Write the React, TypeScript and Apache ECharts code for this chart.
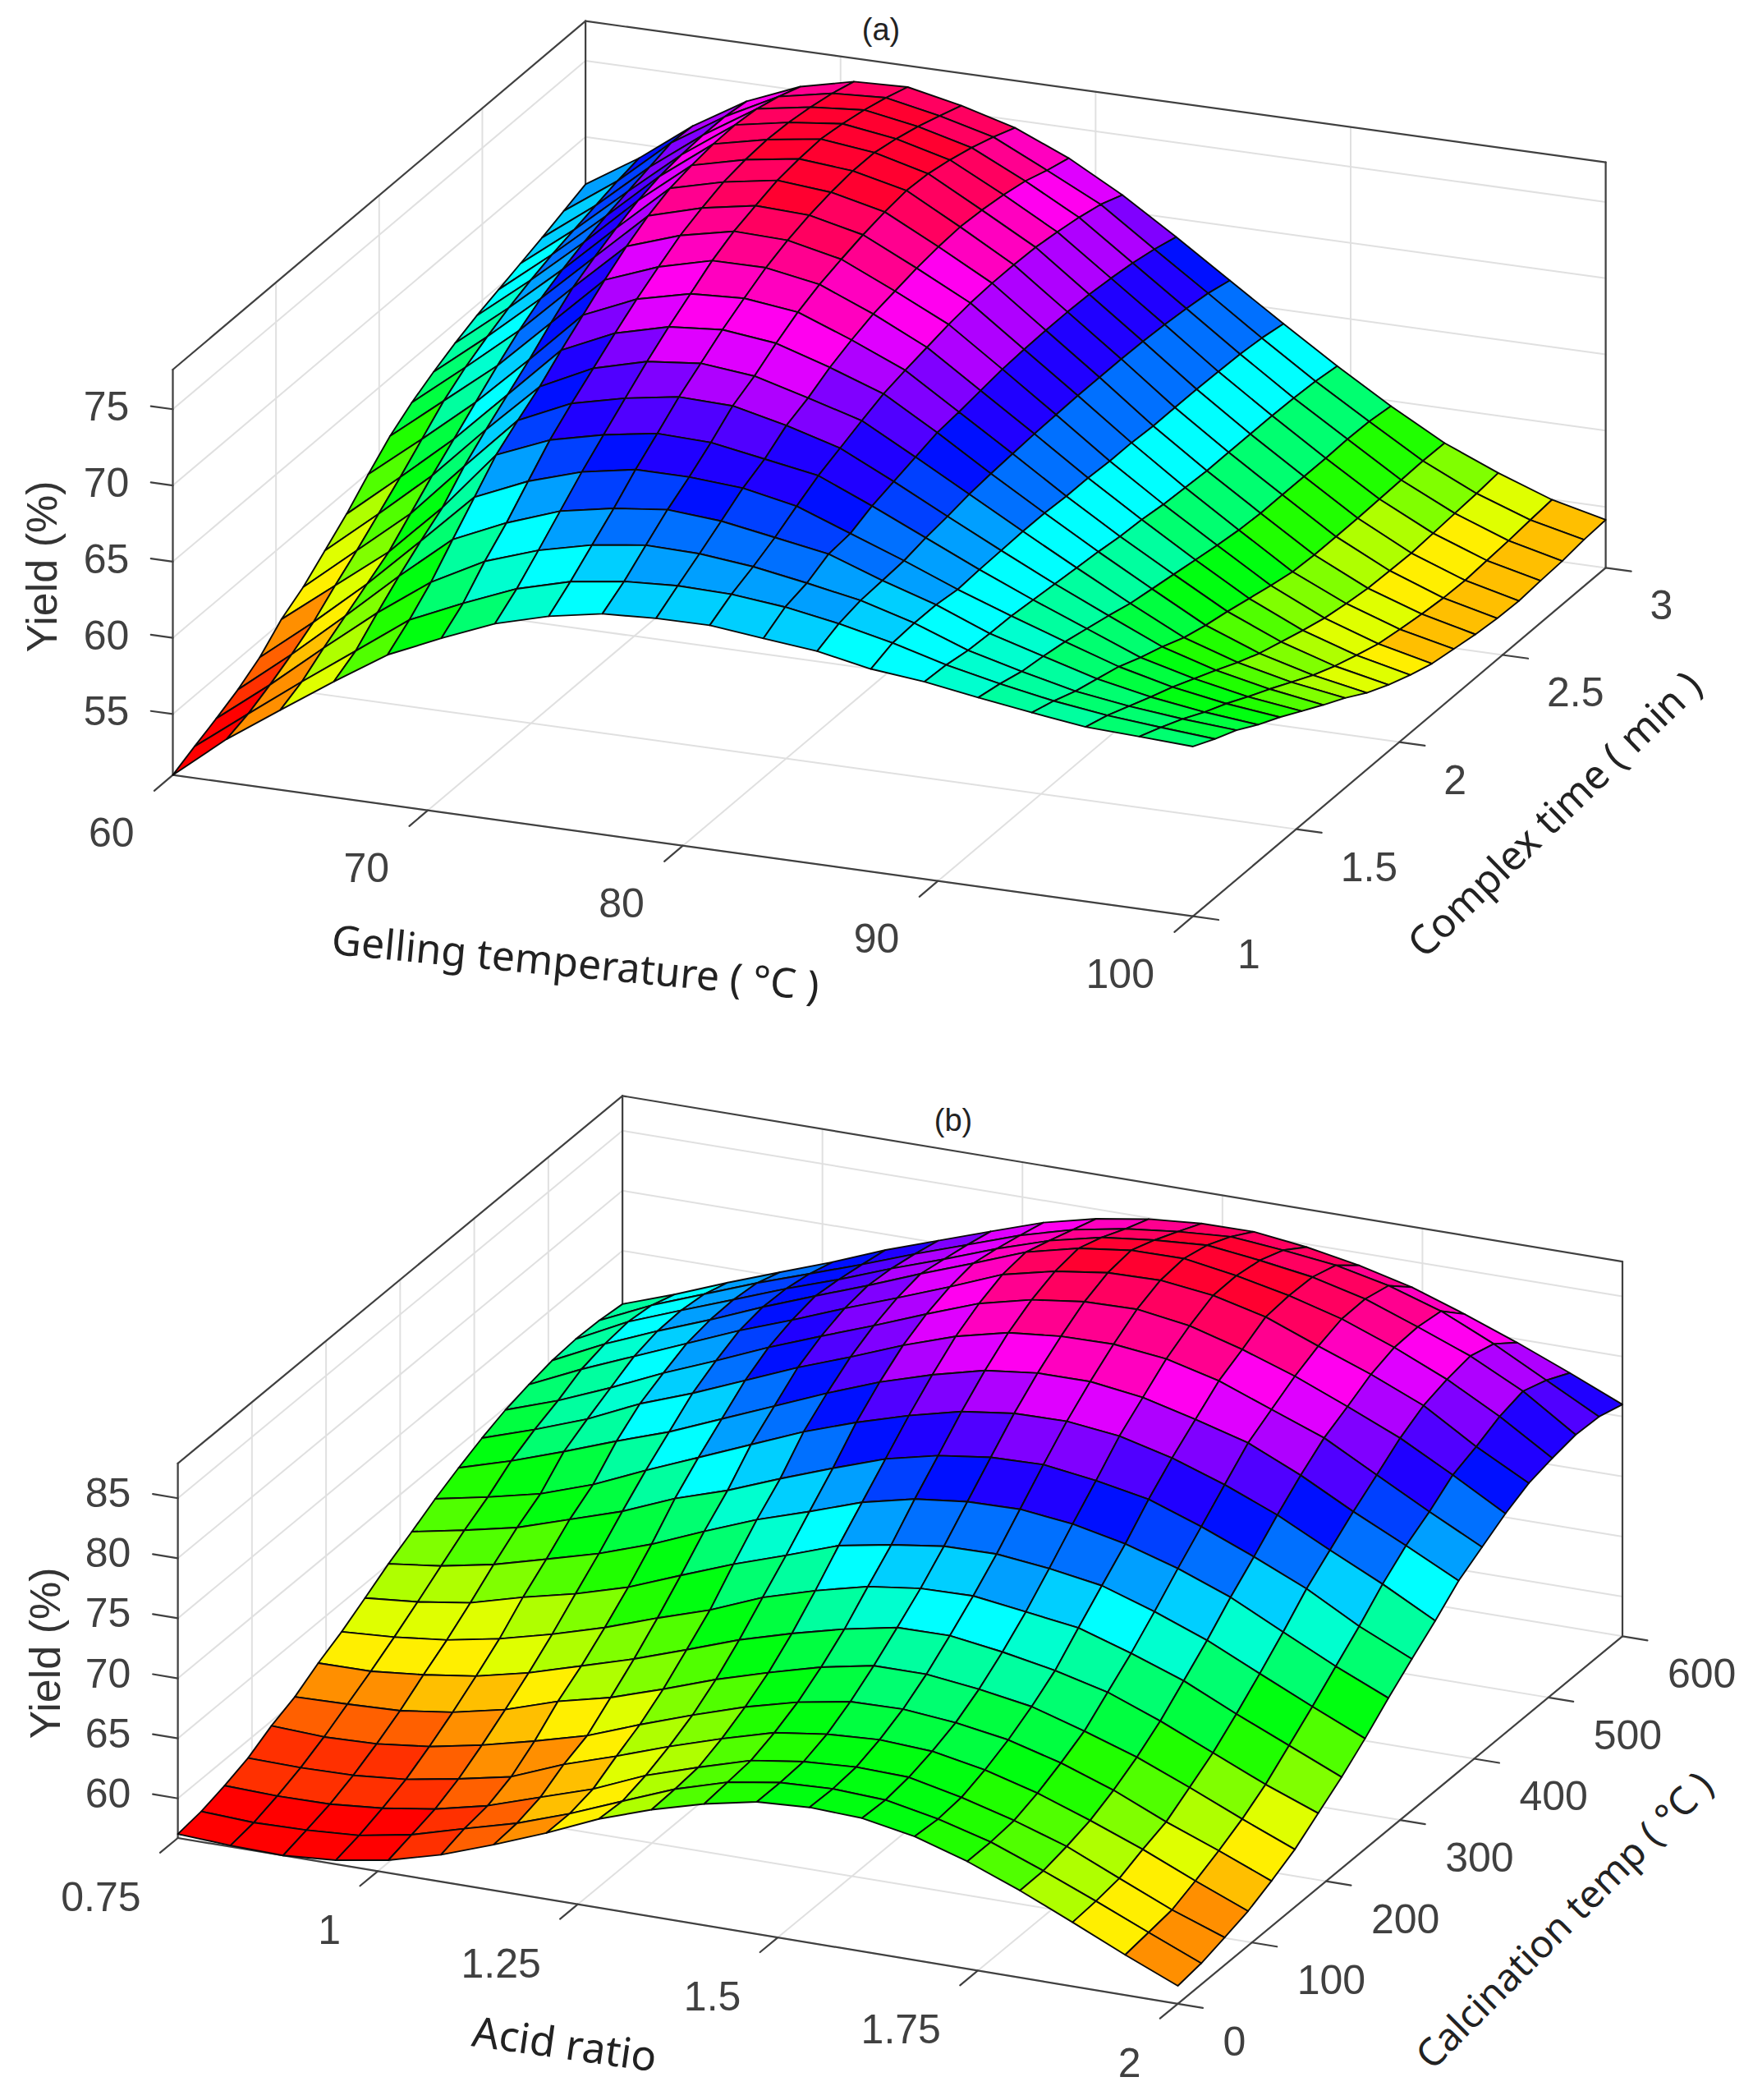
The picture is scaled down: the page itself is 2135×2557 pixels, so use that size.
import React, { useEffect, useRef } from "react";
import * as echarts from "echarts";

const gellingTicks = [60, 70, 80, 90, 100];
const complexTicks = [1, 1.5, 2, 2.5, 3];
const yieldTicksA = [55, 60, 65, 70, 75];
const acidTicks = [0.75, 1, 1.25, 1.5, 1.75, 2];
const calcinationTicks = [0, 100, 200, 300, 400, 500, 600];
const yieldTicksB = [60, 65, 70, 75, 80, 85];

// Yield (%): one row per complex-time step, one column per gelling-temperature step
const yieldA = [
  [51,53.84,56.24,58.6,60.84,62.41,63.86,64.83,65.48,65.67,65.7,65.33,64.98,64.3,63.95,63.4,62.9,62.45,62.3,62.14],
  [51.67,54.3,56.9,59.4,61.92,63.5,64.94,65.9,66.4,66.6,66.53,66.18,65.58,64.8,63.85,63.1,62.46,62,61.7,61.43],
  [52.3,55,57.9,60.7,63.2,65.05,66.26,67.1,67.57,67.5,67.14,66.55,65.9,64.9,63.6,62.7,61.9,61.4,61.05,60.8],
  [53,55.8,58.8,61.9,64.8,66.37,67.63,68.3,68.7,68.44,67.85,67.25,66,64.9,63.5,62.5,61.5,60.8,60.3,59.96],
  [53.9,56.7,59.7,63,66.37,67.9,69,69.64,69.64,69.4,68.7,67.4,66.1,64.7,63.45,62.25,61.1,60.25,59.65,59.25],
  [55.2,57.9,60.6,64,67.94,69.4,70.23,70.8,70.7,70.1,69.5,68,66.4,64.8,63.3,61.9,60.5,59.6,58.9,58.44],
  [56.1,59,61.9,65.5,69,70.6,71.43,72,71.9,71.1,70.1,68.4,66.6,64.85,63.15,61.55,60,58.95,58.2,57.65],
  [57.3,60.2,63.2,66.7,70,71.7,72.63,73,72.65,71.7,70.7,68.8,66.85,64.9,63,61.15,59.4,58.25,57.45,56.9],
  [58.5,61.4,64.4,67.8,71.2,72.8,73.7,74,73.6,72.5,71.26,69.2,67,64.9,62.85,60.9,59,57.65,56.7,56.03],
  [59.9,62.7,65.6,68.9,72.3,73.83,74.67,74.86,74.44,73.1,71.6,69.35,67.1,64.8,62.65,60.65,58.7,57.2,56.1,55.36],
  [61.2,64,66.8,70.1,73.4,74.74,75.64,75.66,75.05,73.6,71.9,69.55,67.2,64.8,62.55,60.4,58.35,56.75,55.6,54.8],
  [62.2,65,67.9,71.2,74.4,75.6,76.36,76.26,75.5,73.9,72.2,69.75,67.25,64.7,62.35,60.15,58,56.35,55.15,54.34],
  [63,65.8,68.8,72,75.2,76.2,76.84,76.7,75.9,74.2,72.4,69.85,67.3,64.7,62.25,59.95,57.7,56.1,54.9,54.1],
  [63.7,66.5,69.5,72.7,75.8,76.7,77.3,77,76.2,74.4,72.5,69.9,67.3,64.6,62.15,59.85,57.6,55.9,54.7,53.85],
  [64.3,67.1,70.1,73.3,76.1,76.96,77.5,77.2,76.4,74.5,72.5,69.9,67.3,64.6,62.15,59.85,57.6,55.85,54.55,53.7],
  [64.8,67.6,70.6,73.7,76.3,77.08,77.6,77.2,76.3,74.4,72.45,69.85,67.25,64.6,62.15,59.85,57.6,55.8,54.5,53.64],
  [65.3,68,71,73.9,76.35,77,77.4,76.9,76,74.2,72.25,69.7,67.15,64.55,62.15,59.85,57.65,55.9,54.6,53.76],
  [65.8,68.4,71.4,74,76.2,76.8,77.1,76.5,75.6,73.9,72,69.5,67,64.5,62.1,59.9,57.7,56,54.7,53.85],
  [66.35,68.8,71.8,74,75.8,76.5,76.7,76,75.1,73.4,71.65,69.2,66.8,64.35,62,59.85,57.75,56.1,54.85,54.05],
  [66.9,69.1,71.7,73.8,75.25,76.07,76.2,75.47,74.5,73,71.07,68.8,66.44,64.08,61.8,59.66,57.72,56.25,54.98,54.15],
];

// Yield (%): one row per calcination-temp step, one column per acid-ratio step
const yieldB = [
  [57.03,56.8,56.7,57.03,57.76,58.94,60.5,62.2,64.1,65.6,66.8,67.7,67.97,67.8,67,65.65,63.95,62.03,60.05,58.19],
  [57.3,57.1,57.2,57.48,58.27,59.5,60.68,62.2,63.96,65.7,67,67.7,67.9,67.7,66.84,65.65,63.98,62.18,60.3,58.46],
  [57.84,57.7,57.75,58.14,58.8,59.8,61.23,62.64,64.5,65.9,67.2,67.83,68.1,67.98,67.03,65.83,64.4,62.47,60.57,59],
  [58.53,58.45,58.54,58.93,59.7,60.6,62.36,63.77,65.3,66.67,67.9,68.5,68.77,68.53,67.7,66.5,64.95,63.27,61.37,59.58],
  [59.6,59.4,59.55,60.05,60.9,61.96,63.14,64.78,66.3,67.7,68.83,69.6,69.7,69.3,68.6,67.4,65.86,63.95,62.27,60.48],
  [60.4,60.52,60.7,61.3,62.25,63.66,64.7,66.13,67.66,68.96,70.14,70.98,71,70.48,69.76,68.44,67,65.2,63.3,61.5],
  [61.6,61.65,62.08,62.7,63.7,65,66.3,67.8,69.35,70.6,71.7,72.55,72.6,71.97,71.15,70.07,68.4,66.48,64.57,62.9],
  [62.6,62.88,63.37,64.2,65.3,66.58,68.1,69.5,71.27,72.56,73.63,74.2,74.3,73.7,73.1,71.7,70.14,68.1,66.2,64.3],
  [63.8,64.2,64.85,66.04,67.06,68.33,70.04,71.7,73.16,74.7,75.5,76.1,76.18,75.7,75,73.56,71.9,69.85,67.83,65.9],
  [65.04,65.58,66.43,67.6,68.8,70.3,72.1,73.8,75.2,76.7,77.7,78.2,78.3,77.8,76.86,75.54,73.87,71.7,69.57,67.66],
  [66.1,66.95,67.9,69.3,70.7,72.5,73.9,75.6,77.2,78.7,79.7,80.28,80.4,79.8,78.97,77.42,75.63,73.7,71.3,69.3],
  [67.23,68.1,69.1,70.6,72.5,74.3,76.1,77.9,79.4,80.7,81.76,82.33,82.4,81.9,80.8,79.3,77.5,75.3,73.2,70.88],
  [68.2,69.5,71,72.6,74.1,75.9,77.7,79.5,81.15,82.48,83.57,84.08,84.1,83.5,82.4,81.17,79.2,76.9,74.8,72.6],
  [69.07,70.5,72.1,74.1,75.7,77.5,79.3,80.9,82.6,84.07,85.1,85.53,85.6,85.1,84,82.34,80.7,78.34,76,73.79],
  [69.8,71.3,73.1,75.05,76.8,78.64,80.3,81.9,83.6,85.2,86.24,86.8,86.9,86.25,85,83.5,81.7,79.8,77.45,74.97],
  [70.3,72.3,74.1,75.9,77.7,79.3,81,82.6,84.25,86,87,87.6,87.7,87.16,86.1,84.4,82.77,80.9,78.2,75.89],
  [70.7,72.8,74.6,76.26,78.05,79.7,81.3,83,84.6,86.26,87.3,87.86,87.9,87.2,86.27,85.05,83.4,81.47,79.1,76.36],
  [70.86,73.04,74.7,76.33,77.97,79.46,81.1,82.6,84.2,85.6,86.6,87.1,87.4,86.86,86.2,85.1,83.5,81.8,79.6,76.7],
  [70.8,72.8,74.45,76.1,77.6,79.1,80.7,82.2,83.7,84.9,85.7,86.2,86.5,86.1,85.57,84.6,83.2,81.2,78.9,76.6],
  [70.56,72.1,73.8,75.4,76.97,78.7,80.2,81.7,83.16,84.2,84.9,85.26,85.3,84.75,83.95,82.86,81.35,79.7,77.9,76],
];

type Panel = {
  values: number[][];
  xTicks: number[]; yTicks: number[]; zTicks: number[];
  xRange: number[]; yRange: number[]; zRange: number[];
  origin: number[]; xVec: number[]; yVec: number[]; zPx: number;
  xTickLen: number; yTickLen: number; zTickLen: number;
  zLabel: number[]; xLabel: number[]; yLabel: number[];
  tag: string; tagPos: number[];
  zName: string; zNamePos: number[];
  xName: string; xNamePos: number[]; xNameRot: number; xNameSize: number;
  yName: string; yNamePos: number[]; yNameRot: number; yNameSize: number;
};

const panelA: Panel = {
  values: yieldA,
  xTicks: gellingTicks, yTicks: complexTicks, zTicks: yieldTicksA,
  xRange: [60, 100], yRange: [1, 3], zRange: [51, 77.6],
  origin: [210.5, 943.7], xVec: [1242.5, 172], yVec: [502.6, -424.3], zPx: 18.56,
  xTickLen: 0.045, yTickLen: 0.025, zTickLen: 0.0215,
  zLabel: [-81, -3], xLabel: [-47, 70], yLabel: [54, 46],
  tag: "(a)", tagPos: [1073, 36],
  zName: "Yield (%)", zNamePos: [51, 690],
  xName: "Gelling temperature ( °C )", xNamePos: [701, 1171], xNameRot: -0.095, xNameSize: 50,
  yName: "Complex time ( min )", yNamePos: [1892, 990], yNameRot: 0.77, yNameSize: 49,
};

const panelB: Panel = {
  values: yieldB,
  xTicks: acidTicks, yTicks: calcinationTicks, zTicks: yieldTicksB,
  xRange: [0.75, 2], yRange: [0, 600], zRange: [56.7, 87.9],
  origin: [216.6, 2238], xVec: [1217.9, 201.8], yVec: [541.5, -447.5], zPx: 14.62,
  xTickLen: 0.04, yTickLen: 0.025, zTickLen: 0.025,
  zLabel: [-85, -6], xLabel: [-45, 72], yLabel: [55, 46],
  tag: "(b)", tagPos: [1161, 1364],
  zName: "Yield (%)", zNamePos: [55, 2013],
  xName: "Acid ratio", xNamePos: [688, 2487], xNameRot: -0.14, xNameSize: 51,
  yName: "Calcination temp ( °C )", yNamePos: [1904, 2337], yNameRot: 0.785, yNameSize: 47,
};

const TICK_FONT = '50px "Liberation Sans", Arial, sans-serif';
const GRID_COLOR = "#e0e0e0";
const AXIS_COLOR = "#404040";
const HUE_STEPS = 32;

function hueColor(t: number) {
  const idx = Math.min(HUE_STEPS - 1, Math.max(0, Math.floor(t * HUE_STEPS)));
  const h = (idx / HUE_STEPS) * 6;
  const c = (n: number) => {
    const k = (n + h) % 6;
    const v = 1 - Math.max(0, Math.min(k, 4 - k, 1));
    return Math.round(v * 255).toString(16).padStart(2, "0");
  };
  return "#" + c(5) + c(3) + c(1);
}

function makeProject(p: Panel) {
  return (x: number, y: number, z: number) => {
    const u = (x - p.xRange[0]) / (p.xRange[1] - p.xRange[0]);
    const v = (y - p.yRange[0]) / (p.yRange[1] - p.yRange[0]);
    return [
      p.origin[0] + u * p.xVec[0] + v * p.yVec[0],
      p.origin[1] + u * p.xVec[1] + v * p.yVec[1] - (z - p.zRange[0]) * p.zPx,
    ];
  };
}

function segmentSeries(segs: number[][], color: string, width: number, z: number) {
  return {
    type: "custom",
    coordinateSystem: "cartesian2d",
    silent: true,
    z,
    data: segs,
    renderItem: (params: any, api: any) => {
      const s = segs[params.dataIndex];
      const a = api.coord([s[0], s[1]]);
      const b = api.coord([s[2], s[3]]);
      return {
        type: "line",
        shape: { x1: a[0], y1: a[1], x2: b[0], y2: b[1] },
        style: { stroke: color, lineWidth: width, lineCap: "round" },
      };
    },
  };
}

function surfaceSeries(p: Panel) {
  const project = makeProject(p);
  const rows = p.values.length;
  const cols = p.values[0].length;
  const xAt = (i: number) => p.xRange[0] + ((p.xRange[1] - p.xRange[0]) * i) / (cols - 1);
  const yAt = (j: number) => p.yRange[0] + ((p.yRange[1] - p.yRange[0]) * j) / (rows - 1);
  const cells: number[][] = [];
  for (let j = rows - 2; j >= 0; j--) for (let i = 0; i < cols - 1; i++) cells.push([i, j]);
  return {
    type: "custom",
    coordinateSystem: "cartesian2d",
    silent: true,
    z: 5,
    data: cells,
    renderItem: (params: any, api: any) => {
      const [i, j] = cells[params.dataIndex];
      const corners = [[i, j], [i + 1, j], [i + 1, j + 1], [i, j + 1]];
      const points = corners.map(([a, b]) => api.coord(project(xAt(a), yAt(b), p.values[b][a])));
      const t = (p.values[j][i] - p.zRange[0]) / (p.zRange[1] - p.zRange[0]);
      return {
        type: "polygon",
        shape: { points },
        style: { fill: hueColor(t), stroke: "#0a0a0a", lineWidth: 1.9, lineJoin: "round" },
      };
    },
  };
}

function panelSeries(p: Panel) {
  const project = makeProject(p);
  const [x0, x1] = p.xRange;
  const [y0, y1] = p.yRange;
  const [z0, z1] = p.zRange;
  const seg = (a: number[], b: number[]) => [...a, ...b];
  const grid: number[][] = [];
  p.xTicks.forEach((t) => {
    grid.push(seg(project(t, y0, z0), project(t, y1, z0)));
    grid.push(seg(project(t, y1, z0), project(t, y1, z1)));
  });
  p.yTicks.forEach((t) => {
    grid.push(seg(project(x0, t, z0), project(x1, t, z0)));
    grid.push(seg(project(x0, t, z0), project(x0, t, z1)));
  });
  p.zTicks.forEach((t) => {
    grid.push(seg(project(x0, y0, t), project(x0, y1, t)));
    grid.push(seg(project(x0, y1, t), project(x1, y1, t)));
  });
  const axes: number[][] = [
    seg(project(x0, y0, z0), project(x1, y0, z0)),
    seg(project(x1, y0, z0), project(x1, y1, z0)),
    seg(project(x0, y0, z0), project(x0, y0, z1)),
    seg(project(x0, y0, z1), project(x0, y1, z1)),
    seg(project(x0, y1, z1), project(x1, y1, z1)),
    seg(project(x1, y1, z1), project(x1, y1, z0)),
    seg(project(x0, y1, z0), project(x0, y1, z1)),
  ];
  const dx = x1 - x0;
  const dy = y1 - y0;
  p.xTicks.forEach((t) => axes.push(seg(project(t, y0, z0), project(t, y0 - dy * p.xTickLen, z0))));
  p.yTicks.forEach((t) => axes.push(seg(project(x1, t, z0), project(x1 + dx * p.yTickLen, t, z0))));
  p.zTicks.forEach((t) => axes.push(seg(project(x0, y0, t), project(x0 - dx * p.zTickLen, y0, t))));
  return [segmentSeries(grid, GRID_COLOR, 2, 1), segmentSeries(axes, AXIS_COLOR, 2.2, 2), surfaceSeries(p)];
}

function panelTexts(p: Panel) {
  const project = makeProject(p);
  const [x0, x1] = p.xRange;
  const [y0] = p.yRange;
  const [z0] = p.zRange;
  const out: any[] = [];
  const label = (text: string, pos: number[], align: string) =>
    out.push({
      type: "text", x: pos[0], y: pos[1],
      style: { text, font: TICK_FONT, fill: "#404040", align, verticalAlign: "middle" },
    });
  p.zTicks.forEach((t) => {
    const q = project(x0, y0, t);
    label(String(t), [q[0] + p.zLabel[0], q[1] + p.zLabel[1]], "center");
  });
  p.xTicks.forEach((t) => {
    const q = project(t, y0, z0);
    label(String(t), [q[0] + p.xLabel[0], q[1] + p.xLabel[1]], "right");
  });
  p.yTicks.forEach((t) => {
    const q = project(x1, t, z0);
    label(String(t), [q[0] + p.yLabel[0], q[1] + p.yLabel[1]], "left");
  });
  const name = (text: string, pos: number[], rotation: number, font: string, fill: string) =>
    out.push({
      type: "text", x: pos[0], y: pos[1], rotation,
      style: { text, font, fill, align: "center", verticalAlign: "middle" },
    });
  name(p.tag, p.tagPos, 0, '38px "Liberation Sans", Arial, sans-serif', "#222");
  name(p.zName, p.zNamePos, Math.PI / 2, '52px "Liberation Sans", Arial, sans-serif', "#333");
  name(p.xName, p.xNamePos, p.xNameRot, `${p.xNameSize}px "Noto Sans", sans-serif`, "#222");
  name(p.yName, p.yNamePos, p.yNameRot, `${p.yNameSize}px "Noto Sans", sans-serif`, "#222");
  return out;
}

export default function App() {
  const ref = useRef<HTMLDivElement>(null);
  useEffect(() => {
    if (!ref.current) return;
    const chart = echarts.init(ref.current, undefined, { renderer: "svg" });
    chart.setOption({
      animation: false,
      backgroundColor: "#ffffff",
      grid: { left: 0, top: 0, right: 0, bottom: 0 },
      xAxis: { type: "value", min: 0, max: 2135, show: false },
      yAxis: { type: "value", min: 0, max: 2557, inverse: true, show: false },
      series: [...panelSeries(panelA), ...panelSeries(panelB)],
      graphic: { elements: [...panelTexts(panelA), ...panelTexts(panelB)] },
    });
    return () => chart.dispose();
  }, []);
  return <div ref={ref} style={{ position: "absolute", left: 0, top: 0, width: 2135, height: 2557 }} />;
}
